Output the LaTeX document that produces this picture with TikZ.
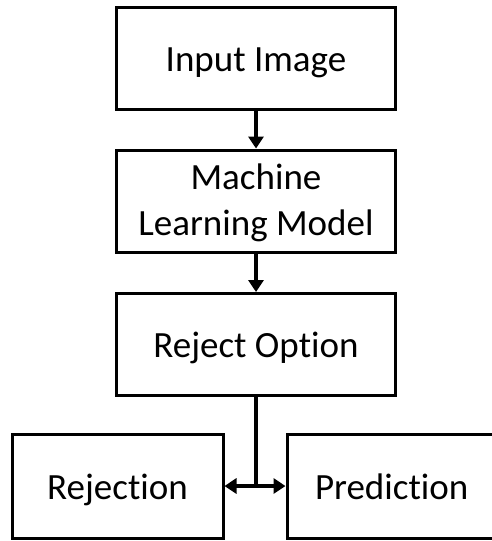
\documentclass[tikz,border=0pt]{standalone}
\usepackage{fontspec}
\setmainfont[RawFeature={-liga;-clig;-dlig}]{Carlito}
\usetikzlibrary{arrows.meta}
\begin{document}
\begin{tikzpicture}[x=1pt,y=-1pt,
  box/.style={draw=black,line width=3pt,minimum height=102pt,inner sep=0pt,align=center,
    font=\fontsize{37}{46}\selectfont},
  one/.style={text height=26pt,text depth=0pt},
  conn/.style={line width=4pt,-{Triangle[length=12pt,width=15pt]}}]
\useasboundingbox (0,0) rectangle (492,541);
\begin{scope}
\clip (0,0) rectangle (492,541);
\node[box,one,minimum width=279pt] (in) at (256,58.5) {Input Image};
\node[box,minimum width=279pt,text depth=3pt] (ml) at (256,201) {Machine\\Learning Model};
\node[box,one,minimum width=279pt] (ro) at (256,344.5) {Reject Option};
\node[box,one,minimum width=211pt,minimum height=104pt] (rej) at (117.5,486) {Rejection};
\node[box,one,minimum width=226pt,minimum height=104pt,text width=226pt,align=left] (pred) at (400,486) {\hspace*{28pt}Prediction};
\end{scope}
\coordinate (j) at (256,486);
\draw[conn] (in) -- (ml);
\draw[conn] (ml) -- (ro);
\draw[line width=4pt] (ro.south) -- (j);
\draw[conn] (j) -- (rej.east);
\draw[conn] (j) -- (pred.west);
\end{tikzpicture}
\end{document}
